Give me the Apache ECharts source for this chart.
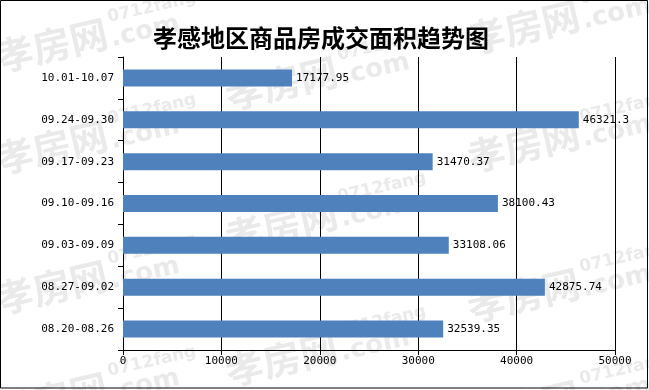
<!DOCTYPE html>
<html>
<head>
<meta charset="utf-8">
<script src="https://cdn.jsdelivr.net/npm/echarts@6/dist/echarts.min.js"></script>
<style>html,body{margin:0;padding:0;background:#fff;}#c{width:649px;height:390px;}</style>
</head>
<body>
<div id="c"></div>
<script>
const titleText = '孝感地区商品房成交面积趋势图';
const categories = ['08.20-08.26','08.27-09.02','09.03-09.09','09.10-09.16','09.17-09.23','09.24-09.30','10.01-10.07'];
const values = [32539.35, 42875.74, 33108.06, 38100.43, 31470.37, 46321.3, 17177.95];
const valueLabels = ['32539.35','42875.74','33108.06','38100.43','31470.37','46321.3','17177.95'];
const xTicks = [0, 10000, 20000, 30000, 40000, 50000];

const monoFont = '"DejaVu Sans Mono", "Liberation Mono", monospace';
const wmFill = 'rgba(150,150,150,0.2)';
const rot = 13 * Math.PI / 180;
function wm(x, y) {
  return {
    type: 'group', x: x, y: y, rotation: rot, z: -10, silent: true,
    children: [
      { type: 'text', x: 0, y: 0, z: -10, style: { text: '孝房网', font: 'bold 38px "Noto Sans CJK SC"', fill: wmFill, textVerticalAlign: 'middle' } },
      { type: 'text', x: 118, y: -14, z: -10, style: { text: '0712fang', font: 'bold 17px "DejaVu Sans"', fill: wmFill, textVerticalAlign: 'middle' } },
      { type: 'text', x: 116, y: 8, z: -10, style: { text: '.com', font: 'bold 26px "DejaVu Sans"', fill: wmFill, textVerticalAlign: 'middle' } }
    ]
  };
}
const wmPos = [[-4, 58], [-4, 160], [-4, 300], [-4, 412], [226, 96], [226, 238], [226, 372], [468, 40], [468, 158], [468, 308], [468, 420]];

const chart = echarts.init(document.getElementById('c'), null, { renderer: 'canvas' });
chart.setOption({
  backgroundColor: '#fff',
  animation: false,
  title: {
    text: titleText, left: 316, top: 21, textAlign: 'center',
    textStyle: { fontFamily: '"Noto Sans CJK SC"', fontSize: 24, fontWeight: 'bold', color: '#000' }
  },
  grid: { left: 123, right: 34, top: 57, bottom: 40, containLabel: false },
  xAxis: {
    type: 'value', min: xTicks[0], max: xTicks[xTicks.length - 1], interval: xTicks[1] - xTicks[0],
    axisLine: { show: true, lineStyle: { color: '#000', width: 1 } },
    axisTick: { show: true, length: 5, lineStyle: { color: '#000' } },
    splitLine: { show: true, lineStyle: { color: '#000', width: 1 } },
    axisLabel: { color: '#000', fontFamily: monoFont, fontSize: 11, margin: 6, formatter: v => String(v) }
  },
  yAxis: {
    type: 'category', data: categories,
    axisLine: { show: true, lineStyle: { color: '#000', width: 1 } },
    axisTick: { show: true, length: 5, lineStyle: { color: '#000' } },
    splitLine: { show: false },
    axisLabel: { color: '#000', fontFamily: monoFont, fontSize: 11, margin: 9 }
  },
  series: [{
    type: 'bar', data: values, barWidth: 17,
    itemStyle: { color: '#4F81BD' },
    label: {
      show: true, position: 'right', distance: 4, color: '#000',
      fontFamily: monoFont, fontSize: 11,
      formatter: p => valueLabels[p.dataIndex]
    }
  }],
  graphic: wmPos.map(p => wm(p[0], p[1])).concat([
    { type: 'rect', z: 100, silent: true, shape: { x: 0.5, y: 0.5, width: 647, height: 387.5 }, style: { fill: 'none', stroke: '#000', lineWidth: 1 } }
  ])
});
</script>
</body>
</html>
